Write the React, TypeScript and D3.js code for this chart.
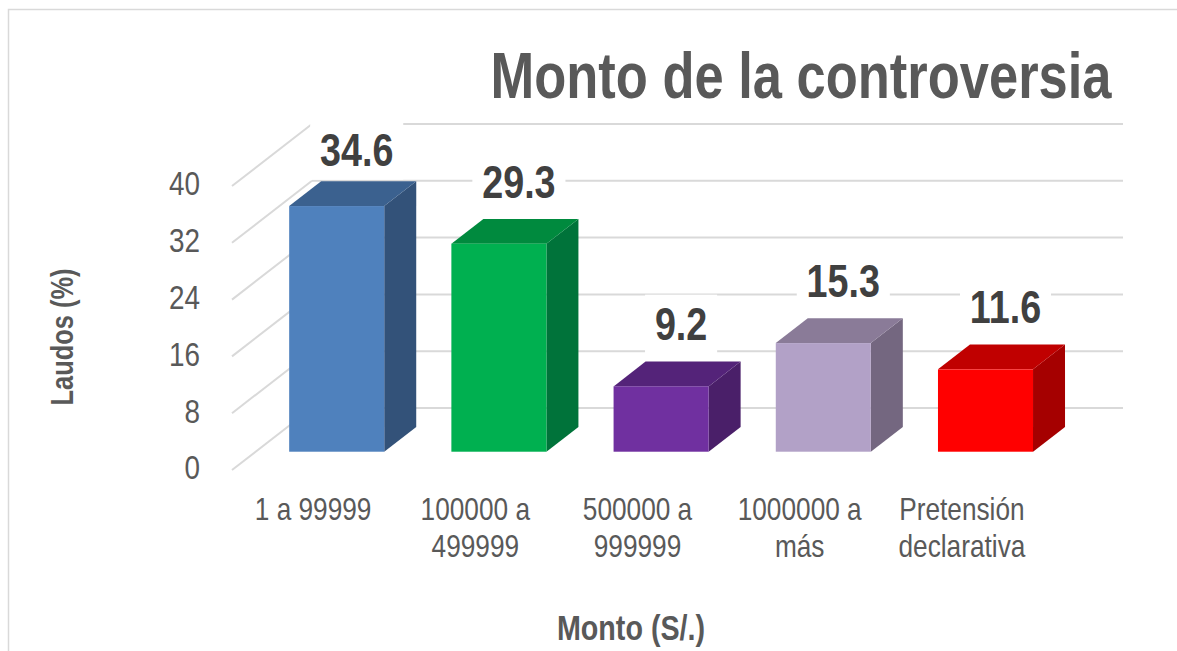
import React, { useRef, useEffect } from 'react';
import * as d3 from 'd3';

// chart data
const categories = ['1 a 99999', '100000 a 499999', '500000 a 999999', '1000000 a más', 'Pretensión declarativa'];
const categoryLines = [['1 a 99999'], ['100000 a', '499999'], ['500000 a', '999999'], ['1000000 a', 'más'], ['Pretensión', 'declarativa']];
const values = [34.6, 29.3, 9.2, 15.3, 11.6];
const yTicks = [0, 8, 16, 24, 32, 40];

const frontColors = ['#4f81bd', '#00b050', '#7030a0', '#b2a1c7', '#ff0000'];
const topColors = ['#3b618f', '#008a3e', '#542379', '#8a7b98', '#c00000'];
const sideColors = ['#335279', '#00733a', '#4a1f69', '#746780', '#a50000'];

const FONT = "'Liberation Sans', Arial, sans-serif";
const NARROW_SCALE = 0.82; // fake Arial Narrow by squeezing horizontally

const App = () => {
  const svgRef = useRef<SVGSVGElement>(null);

  useEffect(() => {
    const width = 1177;
    const height = 651;
    // 3D depth vector (front of floor -> back wall)
    const depth = { dx: 80, dy: -62 };
    const d0 = 0.295; // bar front face position in depth
    const d1 = 0.695; // bar back face position in depth

    const svg = d3.select(svgRef.current)
      .attr('width', width)
      .attr('height', height)
      .attr('viewBox', `0 0 ${width} ${height}`);
    svg.selectAll('*').remove();

    const narrowText = (parent: any, x: number, y: number, size: number, bold: boolean, color: string) => {
      const g = parent.append('g')
        .attr('transform', `translate(${x},${y}) scale(${NARROW_SCALE},1)`);
      const t = g.append('text')
        .attr('x', 0)
        .attr('y', 0)
        .attr('font-family', FONT)
        .attr('font-size', size)
        .attr('font-weight', bold ? 'bold' : 'normal')
        .attr('fill', color);
      return { g, t };
    };

    // chart border (only top and left edges are inside the picture)
    svg.append('rect').attr('width', width).attr('height', height).attr('fill', 'white');
    svg.append('path')
      .attr('d', `M8.5,${height} L8.5,9.5 L${width},9.5`)
      .attr('fill', 'none')
      .attr('stroke', '#d9d9d9')
      .attr('stroke-width', 1.5);

    const x = d3.scaleBand<string>()
      .domain(categories)
      .range([232, 1043]);

    const y = d3.scaleLinear()
      .domain([0, 40])
      .range([470, 186]);

    const grid = svg.append('g');
    // back wall gridlines
    grid.selectAll('line.back')
      .data(yTicks)
      .enter()
      .append('line')
      .attr('x1', 232 + depth.dx)
      .attr('x2', 1043 + depth.dx)
      .attr('y1', d => y(d) + depth.dy)
      .attr('y2', d => y(d) + depth.dy)
      .attr('stroke', '#d9d9d9')
      .attr('stroke-width', 2);
    // side wall gridlines
    grid.selectAll('line.side')
      .data(yTicks)
      .enter()
      .append('line')
      .attr('x1', 232)
      .attr('x2', 232 + depth.dx)
      .attr('y1', d => y(d))
      .attr('y2', d => y(d) + depth.dy)
      .attr('stroke', '#d9d9d9')
      .attr('stroke-width', 2);

    // y tick labels
    const tg = svg.append('g');
    yTicks.forEach(v => {
      narrowText(tg, 200, y(v) - 2, 34, false, '#595959').t
        .attr('text-anchor', 'end')
        .attr('dominant-baseline', 'central')
        .text(v);
    });

    // bars
    const bw = x.bandwidth() * 0.586;
    const bars = values.map((v, i) => {
      const left = (x(categories[i]) as number) + (x.bandwidth() - bw) / 2 + d0 * depth.dx;
      const bottom = y(0) + d0 * depth.dy;
      const top = y(v) + d0 * depth.dy;
      const ox = (d1 - d0) * depth.dx;
      const oy = (d1 - d0) * depth.dy;
      return { v, i, left, right: left + bw, bottom, top, ox, oy };
    });

    const bg = svg.append('g');
    bars.forEach(b => {
      const g = bg.append('g');
      g.append('path')
        .attr('d', `M${b.right},${b.top} L${b.right + b.ox},${b.top + b.oy} L${b.right + b.ox},${b.bottom + b.oy} L${b.right},${b.bottom} Z`)
        .attr('fill', sideColors[b.i]);
      g.append('path')
        .attr('d', `M${b.left},${b.top} L${b.left + b.ox},${b.top + b.oy} L${b.right + b.ox},${b.top + b.oy} L${b.right},${b.top} Z`)
        .attr('fill', topColors[b.i]);
      g.append('rect')
        .attr('x', b.left)
        .attr('y', b.top)
        .attr('width', bw)
        .attr('height', b.bottom - b.top)
        .attr('fill', frontColors[b.i]);
    });

    // value labels with white boxes
    const lg = svg.append('g');
    bars.forEach(b => {
      const cx = b.left + bw / 2 + 20;
      const cy = Math.max(150, b.top - 62);
      const { g, t } = narrowText(lg, cx, cy, 46, true, '#404040');
      t.attr('text-anchor', 'middle')
        .attr('dominant-baseline', 'central')
        .text(b.v.toFixed(1));
      const bb = (t.node() as SVGTextElement).getBBox();
      g.insert('rect', 'text')
        .attr('fill', 'white')
        .attr('x', bb.x - 12).attr('y', bb.y - 4)
        .attr('width', bb.width + 24).attr('height', bb.height + 8);
    });

    // category labels
    const cg = svg.append('g');
    categoryLines.forEach((lines, i) => {
      const cx = (x(categories[i]) as number) + x.bandwidth() / 2;
      const { t } = narrowText(cg, cx, 520, 32, false, '#595959');
      t.attr('text-anchor', 'middle')
        .selectAll('tspan')
        .data(lines)
        .enter()
        .append('tspan')
        .attr('x', 0)
        .attr('dy', (d: string, j: number) => (j === 0 ? 0 : 37))
        .text((d: string) => d);
    });

    // title
    narrowText(svg, 801, 98, 64, true, '#595959').t
      .attr('text-anchor', 'middle')
      .text('Monto de la controversia');

    // axis titles
    narrowText(svg, 631, 640, 35, true, '#595959').t
      .attr('text-anchor', 'middle')
      .text('Monto (S/.)');

    svg.append('g')
      .attr('transform', 'translate(73,337) rotate(-90) scale(0.82,1)')
      .append('text')
      .attr('text-anchor', 'middle')
      .attr('font-family', FONT)
      .attr('font-weight', 'bold')
      .attr('font-size', 31)
      .attr('fill', '#595959')
      .text('Laudos (%)');
  }, []);

  return <svg ref={svgRef} style={{ position: 'absolute', left: 0, top: 0 }}></svg>;
};

export default App;
